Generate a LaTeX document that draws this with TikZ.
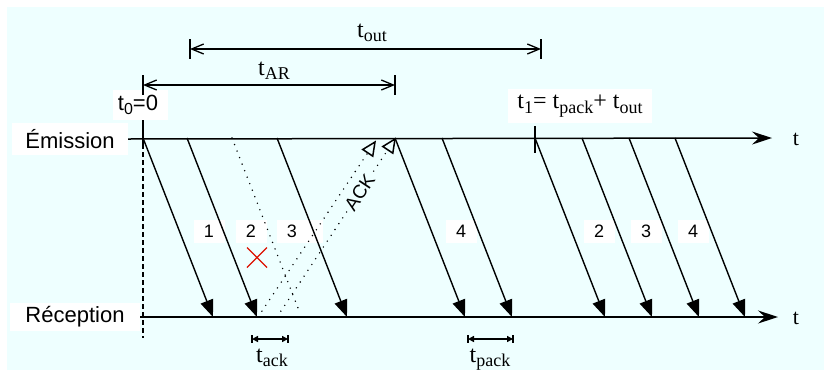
\documentclass[tikz,border=0pt]{standalone}
\usepackage{fontspec}
\setmainfont{Liberation Serif}
\newfontfamily\sansf{Liberation Sans}
\usetikzlibrary{arrows.meta,calc}
\definecolor{bg}{HTML}{EEFFFF}
\definecolor{xred}{HTML}{DD1100}
\newcommand\sanstxt[2][22]{{\sansf\fontsize{#1pt}{#1pt}\selectfont #2}}
\newcommand\sertxt[2][24]{{\fontsize{#1pt}{#1pt}\selectfont #2}}
\newcommand\subtx[2][18]{\raisebox{-4.5pt}{\fontsize{#1pt}{#1pt}\selectfont #2}}
\begin{document}
\begin{tikzpicture}[x=1pt,y=-1pt,
  lbl/.style={fill=white, inner sep=0pt},
  numbox/.style={fill=white, inner sep=0pt, minimum width=31pt, minimum height=23pt},
  pkt/.style={line width=1.4pt, -{Triangle[length=17pt,width=13pt]}},
  axisline/.style={line width=1.5pt, -{Stealth[length=20pt,width=13pt,inset=7pt]}},
  dimline/.style={line width=1.3pt, {Straight Barb[length=12pt,width=10pt]}-{Straight Barb[length=12pt,width=10pt]}},
  smalldim/.style={line width=1.5pt, {Triangle[length=6pt,width=6pt]}-{Triangle[length=6pt,width=6pt]}},
  tickline/.style={line width=1.5pt},
  dotline/.style={line width=1.6pt, dash pattern=on 0pt off 7pt, line cap=round},
  acktip/.style={line width=1.5pt, line join=miter, fill=bg}
]
\useasboundingbox (0,0) rectangle (824,370);
\fill[white] (0,0) rectangle (824,370);
\fill[bg] (7,7) rectangle (824,370);

% label nodes
\node[lbl, minimum width=116pt, minimum height=32pt] (emis) at (70,139) {\sanstxt{Émission}};
\node[lbl, minimum width=130pt, minimum height=28pt] (recep) at (75,317) {\sanstxt{Réception}};
\node[lbl, minimum width=55pt, minimum height=30pt] (tzero) at (140,105) {\sanstxt{t\subtx[16]{0}=0}\hspace*{4pt}};
\node[lbl, minimum width=144pt, minimum height=34pt] (tone) at (580,106) {\sertxt{t\subtx{1}= t\subtx{pack}+ t\subtx{out}}};
\node[anchor=base, inner sep=0pt] (tar) at (274,75) {\sertxt{t\subtx{AR}}};
\node[anchor=base, inner sep=0pt] (tout) at (372,37) {\sertxt{t\subtx{out}}};
\node[anchor=base, inner sep=0pt] (tack) at (272,362) {\sertxt{t\subtx{ack}}};
\node[anchor=base, inner sep=0pt] (tpack) at (490,362) {\sertxt{t\subtx{pack}}};
\node (tE) at (796,139) {\sertxt[22]{t}};
\node (tR) at (796,318) {\sertxt[22]{t}};

% number boxes
\node[numbox] (n1) at (209,231) {\sanstxt[18]{1}};
\node[numbox] (n2) at (251,231) {\sanstxt[18]{2}};
\node[numbox, minimum width=46pt] (n3) at (300,231) {\sanstxt[18]{3}\hspace*{16pt}};
\node[numbox] (n4) at (461,231) {\sanstxt[18]{4}};
\node[numbox] (n5) at (599,231) {\sanstxt[18]{2}};
\node[numbox] (n6) at (646,231) {\sanstxt[18]{3}};
\node[numbox] (n7) at (693,231) {\sanstxt[18]{4}};

% axes
\coordinate (em1) at (772,138);
\coordinate (rc1) at (778,317);
\draw[axisline] (emis.east) -- (em1);
\draw[axisline] (recep.east) -- (rc1);

% t0 dashed line
\coordinate (d0) at (143,120);
\coordinate (d1) at (143,338);
\draw[line width=1.3pt, dash pattern=on 5pt off 3pt] (d0) -- (d1);
\draw[tickline] (d0) -- ++(0,25);

% t1 tick
\coordinate (t1a) at (535,126);
\coordinate (t1b) at (535,153);
\draw[tickline] (t1a) -- (t1b);

% packets
\foreach \n/\xs in {p1/143, p2/187, p3/277, p4/395, p5/442, p6/535, p7/582, p8/629, p9/675} {
  \coordinate (\n s) at (\xs,138);
  \coordinate (\n e) at (\xs+70,317);
  \draw[pkt] (\n s) -- (\n e);
}

% lost packet
\coordinate (ls) at (232,138);
\coordinate (le) at (298,308);
\draw[dotline] (ls) -- (le);

% ACKs
\coordinate (a1s) at (258,317);
\coordinate (a1e) at (375,142);
\coordinate (a2s) at (277,317);
\coordinate (a2e) at (395,139);
\coordinate (a1m) at ($(a1e)!13pt!(a1s)$);
\coordinate (a2m) at ($(a2e)!13pt!(a2s)$);
\draw[dotline] (a1s) -- (a1m);
\draw[dotline] (a2s) -- (a2m);
\draw[acktip] (a1e) -- ($(a1m)!6pt!90:(a1e)$) -- ($(a1m)!6pt!-90:(a1e)$) -- cycle;
\draw[acktip] (a2e) -- ($(a2m)!6pt!90:(a2e)$) -- ($(a2m)!6pt!-90:(a2e)$) -- cycle;
\path (a2s) -- (a2e) node[pos=0.70, sloped, fill=bg, inner sep=1pt] (acklbl) {\sanstxt[19]{ACK}};

% red cross
\coordinate (xc) at (257,257.5);
\draw[xred, line width=1.4pt] (xc) ++(-10,-10) -- ++(20,20) (xc) ++(-10,10) -- ++(20,-20);

% t_AR and t_out
\coordinate (ar0) at (143,85);
\coordinate (ar1) at (395,85);
\draw[dimline] (ar0) -- (ar1);
\draw[tickline] (ar0) ++(0,-10) -- ++(0,20);
\draw[tickline] (ar1) ++(0,-10) -- ++(0,20);
\coordinate (ou0) at (190,49);
\coordinate (ou1) at (541,49);
\draw[dimline] (ou0) -- (ou1);
\draw[tickline] (ou0) ++(0,-10) -- ++(0,20);
\draw[tickline] (ou1) ++(0,-10) -- ++(0,20);

% t_ack and t_pack
\coordinate (ak0) at (252,339);
\coordinate (ak1) at (288,339);
\draw[smalldim] (ak0) -- (ak1);
\draw[tickline] (ak0) ++(0,-4) -- ++(0,8);
\draw[tickline] (ak1) ++(0,-4) -- ++(0,8);
\coordinate (pk0) at (468,339);
\coordinate (pk1) at (513,339);
\draw[smalldim] (pk0) -- (pk1);
\draw[tickline] (pk0) ++(0,-4) -- ++(0,8);
\draw[tickline] (pk1) ++(0,-4) -- ++(0,8);
\end{tikzpicture}
\end{document}
